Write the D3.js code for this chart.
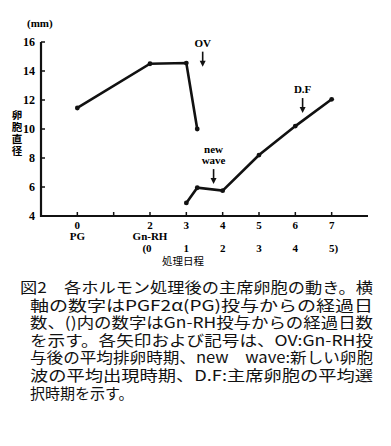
<!DOCTYPE html>
<html>
<head>
<meta charset="utf-8">
<script src="https://cdn.jsdelivr.net/npm/d3@7"></script>
<style>
  body { margin: 0; background: #fff; }
  svg { display: block; }
</style>
</head>
<body>
<div id="chart"></div>
<script>
// days after PG and follicle diameter (mm)
const firstDays = [0, 2, 3, 3.3];
const firstSize = [11.45, 14.5, 14.55, 10.0];
const waveDays = [3, 3.3, 4, 5, 6, 7];
const waveSize = [4.9, 5.95, 5.75, 8.2, 10.2, 12.05];

const xTicks = [0, 1, 2, 3, 4, 5, 6, 7];
const xTickLabels = ['0', '', '2', '3', '4', '5', '6', '7'];
const gnrhTicks = [2, 3, 4, 5, 6, 7];
const gnrhLabels = ['(0', '1', '2', '3', '4', '5)'];
const yTicks = [4, 6, 8, 10, 12, 14, 16];

// arrows: [label lines, day, mm at arrow tip]
const marks = [
  { text: ['OV'], day: 3.45, tip: 14.3 },
  { text: ['new', 'wave'], day: 3.75, tip: 6.2 },
  { text: ['D.F'], day: 6.2, tip: 11.1 }
];

const caption = [
  '図2　各ホルモン処理後の主席卵胞の動き。横',
  '軸の数字はPGF2α(PG)投与からの経過日',
  '数、()内の数字はGn-RH投与からの経過日数',
  'を示す。各矢印および記号は、OV:Gn-RH投',
  '与後の平均排卵時期、new　wave:新しい卵胞',
  '波の平均出現時期、D.F:主席卵胞の平均選',
  '択時期を示す。'
];

const width = 391, height = 446;
const svg = d3.select('#chart').append('svg')
  .attr('width', width)
  .attr('height', height);

const x = d3.scaleLinear().domain([-1, 8]).range([41, 368]);
const y = d3.scaleLinear().domain([4, 16]).range([216, 42]);

const serif = '"Liberation Serif", "DejaVu Serif", serif';
const jp = '"Noto Sans CJK JP", sans-serif';

// axes
svg.append('line')
  .attr('x1', x(-1)).attr('x2', x(-1))
  .attr('y1', y(16)).attr('y2', y(4) + 1)
  .attr('stroke', '#111').attr('stroke-width', 2.2);
svg.append('line')
  .attr('x1', x(-1)).attr('x2', x(8))
  .attr('y1', y(4)).attr('y2', y(4))
  .attr('stroke', '#111').attr('stroke-width', 2.2);

svg.selectAll('.ytick').data(yTicks).enter().append('line')
  .attr('x1', x(-1)).attr('x2', x(-1) + 4)
  .attr('y1', d => y(d)).attr('y2', d => y(d))
  .attr('stroke', '#111').attr('stroke-width', 1.5);
svg.selectAll('.ylab').data(yTicks).enter().append('text')
  .attr('x', x(-1) - 6).attr('y', d => y(d) + 4)
  .attr('text-anchor', 'end')
  .attr('font-family', serif).attr('font-weight', 'bold').attr('font-size', 12)
  .text(d => d);

svg.selectAll('.xtick').data(xTicks).enter().append('line')
  .attr('x1', d => x(d)).attr('x2', d => x(d))
  .attr('y1', y(4)).attr('y2', y(4) - 4)
  .attr('stroke', '#111').attr('stroke-width', 1.5);
svg.selectAll('.xlab').data(xTicks).enter().append('text')
  .attr('x', d => x(d)).attr('y', 229)
  .attr('text-anchor', 'middle')
  .attr('font-family', serif).attr('font-weight', 'bold').attr('font-size', 11)
  .text((d, i) => xTickLabels[i]);

svg.append('text').attr('x', x(0)).attr('y', 240)
  .attr('text-anchor', 'middle')
  .attr('font-family', serif).attr('font-weight', 'bold').attr('font-size', 11)
  .text('PG');
svg.append('text').attr('x', x(2)).attr('y', 240)
  .attr('text-anchor', 'middle')
  .attr('font-family', serif).attr('font-weight', 'bold').attr('font-size', 11)
  .text('Gn-RH');
svg.selectAll('.glab').data(gnrhTicks).enter().append('text')
  .attr('x', d => x(d) + (d === 2 ? -3 : d === 7 ? 2 : 0)).attr('y', 252)
  .attr('text-anchor', 'middle')
  .attr('font-family', serif).attr('font-weight', 'bold').attr('font-size', 11)
  .text((d, i) => gnrhLabels[i]);
svg.append('text').attr('x', 162).attr('y', 265)
  .attr('font-family', jp).attr('font-size', 10.5)
  .text('処理日程');

// y title
svg.append('text').attr('x', 27).attr('y', 27)
  .attr('font-family', serif).attr('font-weight', 'bold').attr('font-size', 11)
  .text('(mm)');
svg.append('text')
  .attr('x', 17).attr('y', 110)
  .attr('writing-mode', 'vertical-rl')
  .attr('font-family', jp).attr('font-weight', 'bold').attr('font-size', 10.5)
  .attr('letter-spacing', 1.5)
  .text('卵胞直径');

// series
const line = d3.line().x(d => x(d[0])).y(d => y(d[1]));
const series = [
  firstDays.map((d, i) => [d, firstSize[i]]),
  waveDays.map((d, i) => [d, waveSize[i]])
];
series.forEach(s => {
  svg.append('path').datum(s)
    .attr('d', line)
    .attr('fill', 'none').attr('stroke', '#111').attr('stroke-width', 2.6);
  svg.selectAll(null).data(s).enter().append('circle')
    .attr('cx', d => x(d[0])).attr('cy', d => y(d[1]))
    .attr('r', 2.4).attr('fill', '#111');
});

// arrows
marks.forEach(m => {
  const tx = x(m.day), ty = y(m.tip);
  const n = m.text.length;
  m.text.forEach((t, i) => {
    svg.append('text')
      .attr('x', tx).attr('y', ty - 20 - (n - 1 - i) * 11)
      .attr('text-anchor', 'middle')
      .attr('font-family', serif).attr('font-weight', 'bold').attr('font-size', 11)
      .text(t);
  });
  svg.append('line')
    .attr('x1', tx).attr('x2', tx)
    .attr('y1', ty - 15).attr('y2', ty - 4)
    .attr('stroke', '#111').attr('stroke-width', 1.6);
  svg.append('path')
    .attr('d', `M${tx - 3},${ty - 6}L${tx + 3},${ty - 6}L${tx},${ty}Z`)
    .attr('fill', '#111');
});

// caption
svg.selectAll('.cap').data(caption).enter().append('text')
  .attr('x', (d, i) => i === 0 ? 20 : 30)
  .attr('y', (d, i) => 293 + i * 17.6)
  .attr('font-family', jp).attr('font-size', 15)
  .attr('fill', '#111')
  .each(function(d, i) {
    if (i < caption.length - 1) {
      d3.select(this)
        .attr('textLength', i === 0 ? 353 : 343)
        .attr('lengthAdjust', 'spacingAndGlyphs');
    }
  })
  .text(d => d);
</script>
</body>
</html>
